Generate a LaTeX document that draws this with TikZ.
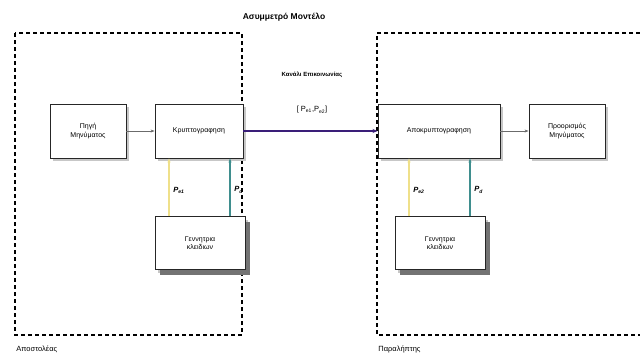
\documentclass[tikz,border=0pt]{standalone}
\usepackage{fontspec}
\setmainfont{Liberation Sans}
\setsansfont{Liberation Sans}
\usetikzlibrary{arrows.meta, positioning, shadows}
\definecolor{cpurple}{HTML}{3A1E78}
\definecolor{cyellow}{HTML}{EFE08A}
\definecolor{cteal}{HTML}{3F8E8E}
\definecolor{cgrey}{HTML}{6B6B6B}
\tikzset{
  every picture/.style={font=\sffamily, line width=0.8pt},
  box/.style={draw=black!85, fill=white, align=center, inner sep=2pt,
    font=\sffamily\fontsize{7}{8.5}\selectfont, line width=0.9pt,
    drop shadow={shadow xshift=3pt, shadow yshift=-3pt, fill=black!22, opacity=1}},
  keybox/.style={box, drop shadow={shadow xshift=5pt, shadow yshift=-5pt, fill=black!55, opacity=1}},
  frame/.style={draw=black, line width=2pt, dash pattern=on 4pt off 3pt},
  arrow/.style={-{Stealth[length=4pt, width=3pt]}, draw=cgrey, line width=0.5pt},
  chan/.style={-{Stealth[length=5pt, width=4pt]}, draw=cpurple, line width=2.6pt},
  keyline/.style={-{Stealth[length=4pt, width=3pt]}, line width=1.3pt},
  keylabel/.style={font=\sffamily\bfseries\itshape\fontsize{7.5}{8}\selectfont, inner sep=1pt},
  note/.style={font=\sffamily\fontsize{7.5}{8}\selectfont, inner sep=1pt},
}
\newcommand{\keyP}[1]{P\textsubscript{\fontsize{5}{5}\selectfont #1}}

\begin{document}
\begin{tikzpicture}[x=1pt, y=-1pt]
  \useasboundingbox (0,0) rectangle (640,362);
  \node[font=\sffamily\bfseries\fontsize{8.5}{9}\selectfont] (title) at (284,17) {Ασυμμετρό Μοντέλο};

  % sender and receiver frames
  \draw[frame] (15,33) rectangle (242,335);
  \draw[frame] (640,33) -- (377,33) -- (377,335) -- (640,335);
  \node[note, anchor=west] (sender) at (15,349) {Αποστολέας};
  \node[note, anchor=west] (receiver) at (377,349) {Παραλήπτης};

  \node[box, minimum width=76pt, minimum height=54pt] (src) at (88,131) {Πηγή\\Μηνύματος};
  \node[box, minimum width=88pt, minimum height=54pt] (enc) at (199,131) {Κρυπτογραφηση};
  \node[box, minimum width=122pt, minimum height=54pt] (dec) at (439,131) {Αποκρυπτογραφηση};
  \node[box, minimum width=76pt, minimum height=54pt] (dst) at (567,131) {Προορισμός\\Μηνύματος};
  \node[keybox, minimum width=90pt, minimum height=53pt] (keyA) at (200,243) {Γεννητρια\\κλειδιων};
  \node[keybox, minimum width=90pt, minimum height=53pt] (keyB) at (440,243) {Γεννητρια\\κλειδιων};

  \draw[arrow] (src) -- (enc);
  \draw[arrow] (dec) -- (dst);
  \draw[chan] (enc) -- (dec);
  \node[note, font=\sffamily\bfseries\fontsize{6}{6}\selectfont] (chname) at (312,75) {Κανάλι Επικοινωνίας};
  \node[note] (chkeys) at (312,110) {[ \keyP{e1},\keyP{e2}]};

  % keys from the generators
  \draw[keyline, cyellow] ([xshift=-31pt]keyA.north) -- ([xshift=-31pt]keyA.north |- enc.south);
  \draw[keyline, cteal] ([xshift=30pt]keyA.north) -- ([xshift=30pt]keyA.north |- enc.south);
  \draw[keyline, cyellow] ([xshift=-31pt]keyB.north) -- ([xshift=-31pt]keyB.north |- dec.south);
  \draw[keyline, cteal] ([xshift=30pt]keyB.north) -- ([xshift=30pt]keyB.north |- dec.south);
  \node[keylabel, anchor=west] (kA1) at (172,190) {\keyP{e1}};
  \node[keylabel, anchor=west] (kA2) at (233,190) {\keyP{d}};
  \node[keylabel, anchor=west] (kB1) at (412,190) {\keyP{e2}};
  \node[keylabel, anchor=west] (kB2) at (473,190) {\keyP{d}};
\end{tikzpicture}
\end{document}
